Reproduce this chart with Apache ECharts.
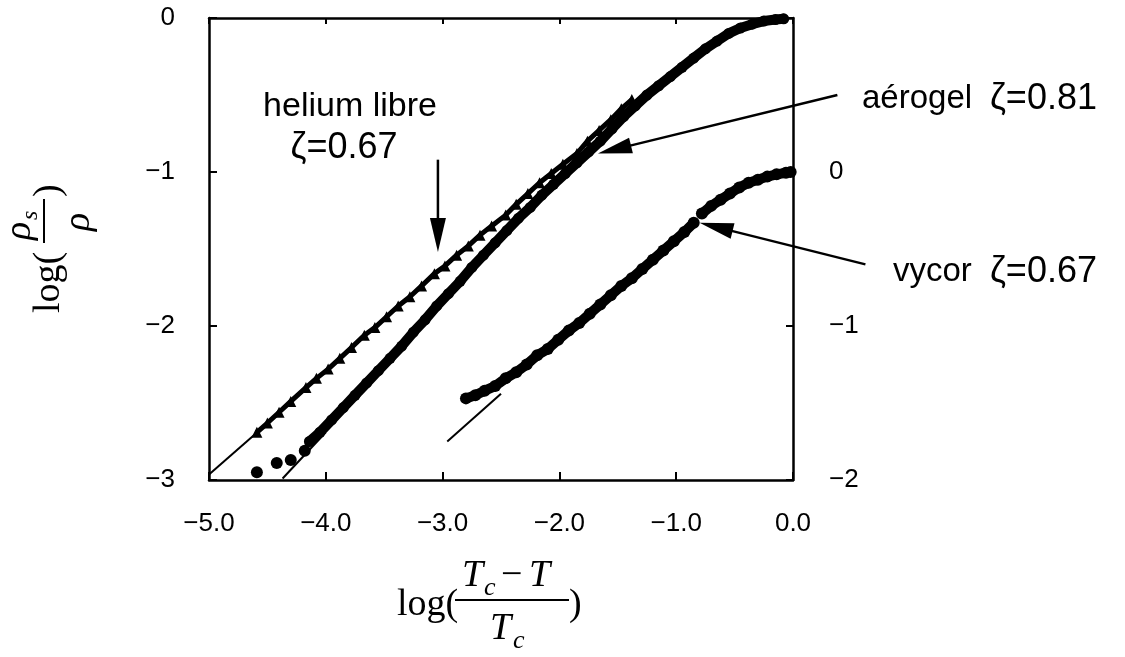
<!DOCTYPE html>
<html><head><meta charset="utf-8">
<script src="https://cdn.jsdelivr.net/npm/echarts/dist/echarts.min.js"></script>
<style>html,body{margin:0;padding:0;background:#fff}#c{width:1125px;height:657px}</style>
</head><body><div id="c"></div>
<script>
// ---- data ----
const xTickValues = [-5, -4, -3, -2, -1, 0];
const leftTickValues = [0, -1, -2, -3];
const rightTickValues = [0, -1, -2];

// helium libre (triangles), left axis
const heliumLibre = [
  [-4.59,-2.69],[-4.50,-2.63],[-4.40,-2.56],[-4.30,-2.49],[-4.17,-2.40],[-4.08,-2.34],
  [-3.98,-2.28],[-3.88,-2.21],[-3.78,-2.14],[-3.67,-2.06],[-3.58,-2.01],[-3.48,-1.94],
  [-3.38,-1.87],[-3.28,-1.81],[-3.18,-1.74],[-3.07,-1.66],[-2.98,-1.61],[-2.88,-1.54],
  [-2.78,-1.48],[-2.68,-1.41],[-2.58,-1.35],[-2.46,-1.28],[-2.37,-1.21],[-2.27,-1.14],
  [-2.17,-1.07],[-2.07,-1.01],[-1.97,-0.95],[-1.85,-0.88],[-1.76,-0.80],[-1.66,-0.73],
  [-1.56,-0.66],[-1.47,-0.59],[-1.38,-0.53]
];
// aérogel, left axis
const aerogelIsolated = [[-4.59,-2.95],[-4.42,-2.89],[-4.30,-2.87],[-4.18,-2.81]];
const aerogel = [
  [-4.14,-2.75],[-4.05,-2.69],[-3.95,-2.61],[-3.85,-2.53],[-3.75,-2.45],[-3.65,-2.37],
  [-3.55,-2.29],[-3.45,-2.21],[-3.35,-2.13],[-3.25,-2.04],[-3.15,-1.96],[-3.05,-1.87],
  [-2.95,-1.79],[-2.85,-1.71],[-2.75,-1.62],[-2.65,-1.54],[-2.55,-1.46],[-2.45,-1.38],
  [-2.35,-1.30],[-2.25,-1.23],[-2.15,-1.15],[-2.05,-1.08],[-1.95,-1.01],[-1.85,-0.94],
  [-1.75,-0.87],[-1.65,-0.80],[-1.55,-0.72],[-1.45,-0.64],[-1.35,-0.57],[-1.25,-0.50],
  [-1.15,-0.44],[-1.05,-0.38],[-0.95,-0.32],[-0.85,-0.26],[-0.75,-0.20],[-0.65,-0.15],
  [-0.55,-0.10],[-0.45,-0.065],[-0.35,-0.04],[-0.25,-0.02],[-0.15,-0.01],[-0.08,-0.005]
];
// vycor, right axis
const vycorLow = [
  [-2.80,-1.47],[-2.72,-1.45],[-2.64,-1.42],[-2.55,-1.39],[-2.46,-1.34],[-2.37,-1.30],
  [-2.28,-1.25],[-2.19,-1.19],[-2.10,-1.15],[-2.01,-1.09],[-1.92,-1.03],[-1.83,-0.98],
  [-1.74,-0.92],[-1.65,-0.86],[-1.56,-0.80],[-1.47,-0.74],[-1.38,-0.69],[-1.29,-0.63],
  [-1.20,-0.57],[-1.11,-0.51],[-1.02,-0.45],[-0.93,-0.39],[-0.85,-0.33]
];
const vycorHigh = [
  [-0.78,-0.27],[-0.70,-0.22],[-0.62,-0.18],[-0.54,-0.14],[-0.46,-0.10],[-0.38,-0.07],
  [-0.30,-0.05],[-0.22,-0.03],[-0.14,-0.015],[-0.06,-0.005],[-0.02,0]
];
// fitted power-law lines
const heliumFit = [[-5.0,-2.965],[-4.3,-2.50]];
const aerogelFit = [[-4.37,-2.99],[-4.0,-2.69]];
const vycorFit = [[-2.96,-1.75],[-2.50,-1.44]];
// annotation arrows (tail, head) in left-axis data coordinates
const arrowHelium = [[-3.04,-0.92],[-3.04,-1.52]];
const arrowAerogel = [[0.38,-0.50],[-1.67,-0.88]];
const arrowVycor = [[0.62,-1.60],[-0.80,-1.33]];

const FONT = 'Liberation Sans';
const SERIF = 'Liberation Serif';
const minus = v => (v < 0 ? '\u2212' : '') + Math.abs(v);

const chart = echarts.init(document.getElementById('c'), null, {renderer:'canvas'});
const axisLineStyle = {color:'#000', width:2.5};
const labelBase = {color:'#000', fontFamily:FONT, fontSize:26};
const opt = {
  backgroundColor:'#fff',
  animation:false,
  grid:{left:209, right:332, top:18, bottom:177},
  xAxis:[
    {type:'value', min:-5, max:0, interval:1, position:'bottom',
     axisLine:{onZero:false, lineStyle:axisLineStyle},
     axisTick:{inside:true, length:8, lineStyle:{color:'#000', width:2}},
     axisLabel:Object.assign({margin:31,
       formatter:v => (v < 0 ? '\u2212' : '') + Math.abs(v).toFixed(1)}, labelBase),
     splitLine:{show:false}},
    {type:'value', min:-5, max:0, interval:1, position:'top',
     axisLine:{onZero:false, lineStyle:axisLineStyle},
     axisTick:{inside:true, length:6, lineStyle:{color:'#000', width:2}},
     axisLabel:{show:false}, splitLine:{show:false}}
  ],
  yAxis:[
    {type:'value', min:-3, max:0, interval:1, position:'left',
     axisLine:{onZero:false, lineStyle:axisLineStyle},
     axisTick:{inside:true, length:8, lineStyle:{color:'#000', width:2}},
     axisLabel:Object.assign({margin:34,
       formatter:v => leftTickValues.includes(v) ? minus(v) : ''}, labelBase),
     splitLine:{show:false}},
    {type:'value', min:-2, max:1, interval:1, position:'right',
     axisLine:{onZero:false, lineStyle:axisLineStyle},
     axisTick:{inside:true, length:7, lineStyle:{color:'#000', width:2}},
     axisLabel:Object.assign({margin:36,
       formatter:v => rightTickValues.includes(v) ? minus(v) : ''}, labelBase),
     splitLine:{show:false}}
  ],
  series:[
    {name:'fit helium', type:'line', data:heliumFit, showSymbol:false, lineStyle:{color:'#000', width:2}, z:2},
    {name:'fit aérogel', type:'line', data:aerogelFit, showSymbol:false, lineStyle:{color:'#000', width:2}, z:2},
    {name:'fit vycor', type:'line', yAxisIndex:1, data:vycorFit, showSymbol:false, lineStyle:{color:'#000', width:2}, z:2},
    {name:'helium libre', type:'line', data:heliumLibre, symbol:'triangle', symbolSize:11,
     itemStyle:{color:'#000', opacity:1}, lineStyle:{color:'#000', width:5}, z:3},
    {name:'aérogel', type:'line', data:aerogel, symbol:'circle', symbolSize:11,
     itemStyle:{color:'#000', opacity:1}, lineStyle:{color:'#000', width:10, cap:'round'}, z:3},
    {name:'aérogel isolé', type:'scatter', data:aerogelIsolated, symbol:'circle', symbolSize:12,
     itemStyle:{color:'#000', opacity:1}, z:3},
    {name:'vycor', type:'line', yAxisIndex:1, data:vycorLow, symbol:'circle', symbolSize:12,
     itemStyle:{color:'#000', opacity:1}, lineStyle:{color:'#000', width:10, cap:'round'}, z:3},
    {name:'vycor haut', type:'line', yAxisIndex:1, data:vycorHigh, symbol:'circle', symbolSize:12,
     itemStyle:{color:'#000', opacity:1}, lineStyle:{color:'#000', width:10, cap:'round'}, z:3}
  ]
};
chart.setOption(opt);

function px(p){ return chart.convertToPixel({xAxisIndex:0, yAxisIndex:0}, p); }
function arrow(a){
  const t = px(a[0]), h = px(a[1]);
  const dx = h[0]-t[0], dy = h[1]-t[1], L = Math.hypot(dx,dy);
  const ux = dx/L, uy = dy/L, len = 34, hw = 8;
  const bx = h[0]-ux*len, by = h[1]-uy*len;
  return [
    {type:'line', shape:{x1:t[0], y1:t[1], x2:bx+ux*4, y2:by+uy*4}, style:{stroke:'#000', lineWidth:2.5}, z:10},
    {type:'polygon', shape:{points:[[h[0],h[1]],[bx-uy*hw, by+ux*hw],[bx+uy*hw, by-ux*hw]]}, style:{fill:'#000'}, z:10}
  ];
}
function txt(s, x, y, size, o){
  return {type:'text', x:x, y:y, z:10,
    style:Object.assign({text:s, fill:'#000', font:size+'px "'+FONT+'"', textAlign:'left', textVerticalAlign:'middle'}, o||{})};
}
function stxt(s, x, base, size, italic, align){
  return {type:'text', x:x, y:base - size*0.33, z:10,
    style:{text:s, fill:'#000', font:(italic?'italic ':'')+size+'px "'+SERIF+'"', textAlign:align||'left', textVerticalAlign:'middle'}};
}
const FS = 38;
const xTitle = {type:'group', x:397, y:618, children:[
  stxt('log(', 0, 0, FS, false),
  stxt('T', 65, -29, FS, true),
  stxt('c', 87, -21, 26, true),
  stxt('\u2212', 104, -29, FS, false),
  stxt('T', 132, -29, FS, true),
  {type:'line', shape:{x1:58, y1:-18, x2:172, y2:-18}, style:{stroke:'#000', lineWidth:2}},
  stxt('T', 93, 24, FS, true),
  stxt('c', 116, 32, 26, true),
  stxt(')', 172, 0, FS, false)
]};
const yTitle = {type:'group', x:62, y:313, rotation:Math.PI/2, children:[
  stxt('log(', 0, 0, FS, false),
  stxt('\u03C1', 73, -29, FS, true),
  stxt('s', 93, -23, 24, true),
  {type:'line', shape:{x1:70, y1:-18, x2:114, y2:-18}, style:{stroke:'#000', lineWidth:2}},
  stxt('\u03C1', 82, 30, FS, true),
  stxt(')', 116, 0, FS, false)
]};
const graphics = [].concat(
  arrow(arrowHelium), arrow(arrowAerogel), arrow(arrowVycor),
  [
    txt('helium libre', 350, 107, 34, {textAlign:'center'}),
    txt('\u03B6=0.67', 344, 148, 36, {textAlign:'center'}),
    txt('aérogel', 862, 99, 33),
    txt('\u03B6=0.81', 990, 99, 36),
    txt('vycor', 893, 272, 33),
    txt('\u03B6=0.67', 990, 272, 36),
    xTitle, yTitle
  ]
);
chart.setOption({graphic:graphics});
</script></body></html>
